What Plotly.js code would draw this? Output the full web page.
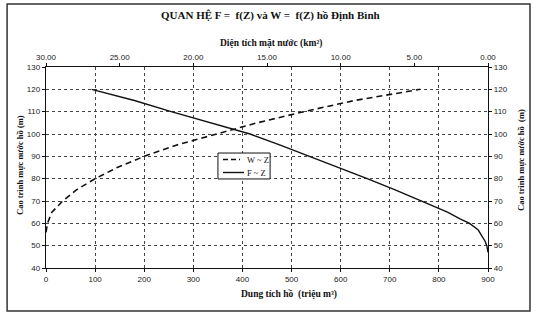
<!DOCTYPE html>
<html>
<head>
<meta charset="utf-8">
<script src="https://cdn.plot.ly/plotly-3.0.1.min.js"></script>
<style>html,body{margin:0;padding:0;background:#fff;}#chart{width:542px;height:321px;}</style>
</head>
<body>
<div id="chart"></div>
<script>
// W ~ Z : volume (million m3) vs water level (m)
var levelW = [56, 60, 65, 70, 75, 80, 85, 90, 95, 100, 105, 110, 115, 120];
var volumeW = [0, 3, 12, 34, 62, 100, 145, 200, 265, 345, 430, 525, 628, 762];
// F ~ Z : surface area (km2) vs water level (m)
var levelF = [47, 50, 52, 55, 57, 60, 62, 65, 70, 75, 80, 85, 90, 95, 100, 105, 110, 115, 120];
var areaF = [0, 0.08, 0.2, 0.45, 0.66, 1.25, 1.9, 2.75, 4.5, 6.3, 8.2, 10.15, 12.2, 14.1, 16.15, 18.9, 21.5, 24.0, 26.9];
var areaTicks = [30, 25, 20, 15, 10, 5, 0];

var serif = "Liberation Serif, Times New Roman, serif";
var sans = "Liberation Sans, Arial, sans-serif";

var traces = [
  {x: volumeW, y: levelW, xaxis: 'x', yaxis: 'y', mode: 'lines', name: 'W ~ Z',
   line: {color: '#111', width: 1.6, dash: '6px,4px'}, showlegend: false},
  {x: areaF, y: levelF, xaxis: 'x2', yaxis: 'y2', mode: 'lines', name: 'F ~ Z',
   line: {color: '#111', width: 1.4}, showlegend: false}
];

var gridStyle = {showgrid: true, gridcolor: '#444', griddash: 'dot', gridwidth: 1};
var layout = {
  width: 542, height: 321,
  margin: {l: 46, r: 54, t: 67, b: 53, pad: 0},
  paper_bgcolor: '#fff', plot_bgcolor: '#fff',
  showlegend: false,
  xaxis: Object.assign({range: [0, 900], dtick: 100, tick0: 0, showline: true, linecolor: '#111', linewidth: 1.2,
    ticks: 'outside', ticklen: 3, tickcolor: '#111', zeroline: false,
    tickfont: {family: sans, size: 8, color: '#222'}}, gridStyle),
  xaxis2: {range: [30, 0], overlaying: 'x', side: 'top', tickvals: areaTicks, tickformat: '.2f',
    showline: true, linecolor: '#111', linewidth: 1.2, ticks: 'outside', ticklen: 3, tickcolor: '#111',
    showgrid: false, zeroline: false, tickfont: {family: sans, size: 8, color: '#222'}},
  yaxis: Object.assign({range: [40, 130], dtick: 10, tick0: 40, showline: true, linecolor: '#111', linewidth: 1.2,
    ticks: 'outside', ticklen: 3, tickcolor: '#111', zeroline: false,
    tickfont: {family: sans, size: 8, color: '#222'}}, gridStyle),
  yaxis2: {range: [40, 130], dtick: 10, tick0: 40, overlaying: 'y', side: 'right', showline: true,
    linecolor: '#111', linewidth: 1.2, ticks: 'outside', ticklen: 3, tickcolor: '#111',
    showgrid: false, zeroline: false, tickfont: {family: sans, size: 8, color: '#222'}},
  shapes: [
    {type: 'rect', xref: 'paper', yref: 'paper', x0: -0.088, x1: 1.095, y0: -0.214, y1: 1.313,
     line: {color: '#333', width: 1.5}},
    {type: 'rect', xref: 'paper', yref: 'paper', x0: 0.389, x1: 0.507, y0: 0.443, y1: 0.572,
     line: {color: '#111', width: 1}, fillcolor: '#fff'},
    {type: 'line', xref: 'paper', yref: 'paper', x0: (223-46)/442, x1: (240-46)/442,
     y0: (268-159.5)/201, y1: (268-159.5)/201, line: {color: '#111', width: 1.6, dash: '5px,3px'}},
    {type: 'line', xref: 'paper', yref: 'paper', x0: (223-46)/442, x1: (244-46)/442,
     y0: (268-172.5)/201, y1: (268-172.5)/201, line: {color: '#111', width: 1.4}}
  ],
  annotations: [
    {text: '<b>QUAN HỆ F =  f(Z) và W =  f(Z) hồ Định Bình</b>', xref: 'paper', yref: 'paper',
     x: (270-46)/442, y: (268-16)/201, xanchor: 'center', yanchor: 'middle', showarrow: false,
     font: {family: serif, size: 11, color: '#111'}},
    {text: '<b>Diện tích mặt nước (km²)</b>', xref: 'paper', yref: 'paper',
     x: (271-46)/442, y: (268-43)/201, xanchor: 'center', yanchor: 'middle', showarrow: false,
     font: {family: serif, size: 9.5, color: '#111'}},
    {text: '<b>Dung tích hồ  (triệu m³)</b>', xref: 'paper', yref: 'paper',
     x: (289-46)/442, y: (268-294)/201, xanchor: 'center', yanchor: 'middle', showarrow: false,
     font: {family: serif, size: 9.5, color: '#111'}},
    {text: '<b>Cao trình mực nước hồ (m)</b>', xref: 'paper', yref: 'paper', textangle: -90,
     x: (20-46)/442, y: (268-165)/201, xanchor: 'center', yanchor: 'middle', showarrow: false,
     font: {family: serif, size: 8.5, color: '#111'}},
    {text: '<b>Cao trình mực nước hồ  (m)</b>', xref: 'paper', yref: 'paper', textangle: -90,
     x: (521-46)/442, y: (268-160)/201, xanchor: 'center', yanchor: 'middle', showarrow: false,
     font: {family: serif, size: 8.5, color: '#111'}},
    {text: 'W ~ Z', xref: 'paper', yref: 'paper', x: (245-46)/442, y: (268-159.5)/201,
     xanchor: 'left', yanchor: 'middle', showarrow: false, font: {family: serif, size: 8.5, color: '#111'}},
    {text: 'F ~ Z', xref: 'paper', yref: 'paper', x: (245-46)/442, y: (268-172.5)/201,
     xanchor: 'left', yanchor: 'middle', showarrow: false, font: {family: serif, size: 8.5, color: '#111'}}
  ]
};

Plotly.newPlot('chart', traces, layout, {staticPlot: true, displayModeBar: false});
</script>
</body>
</html>
